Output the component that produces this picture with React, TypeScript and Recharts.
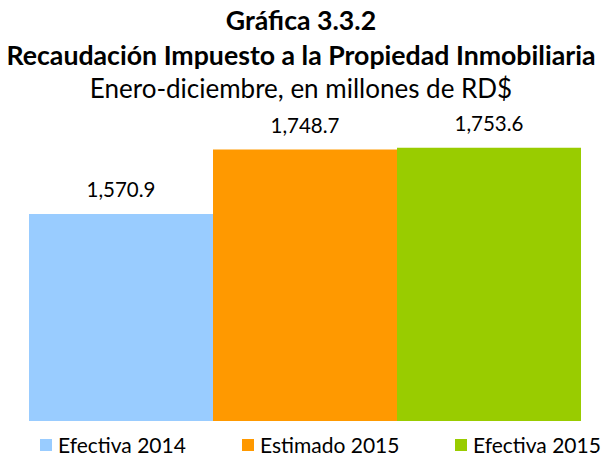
import { BarChart, Bar, XAxis, YAxis, LabelList } from 'recharts';

const seriesNames = ['Efectiva 2014', 'Estimado 2015', 'Efectiva 2015'];
const seriesKeys = ['efectiva2014', 'estimado2015', 'efectiva2015'];
const seriesValues = [1570.9, 1748.7, 1753.6];
const seriesColors = ['#99ccff', '#ff9900', '#99cc00'];

const titleLines = ['Gráfica 3.3.2', 'Recaudación Impuesto a la Propiedad Inmobiliaria'];
const subtitle = 'Enero-diciembre, en millones de RD$';

const row: Record<string, number | string> = { name: 'Recaudación' };
seriesKeys.forEach((k, i) => {
  row[k] = seriesValues[i];
});
const chartData = [row];

const FONT = 'Lato, "Open Sans", sans-serif';

const fmt = (v: any) =>
  typeof v === 'number'
    ? v.toLocaleString('en-US', { minimumFractionDigits: 1, maximumFractionDigits: 1 })
    : v;

function ChartLegend() {
  const lefts = [40, 242, 455];
  return (
    <div style={{ position: 'absolute', left: 0, top: 434, width: 602, height: 22 }}>
      {seriesNames.map((n, i) => (
        <div
          key={n}
          style={{
            position: 'absolute',
            left: lefts[i],
            top: 0,
            display: 'flex',
            alignItems: 'center',
            fontFamily: FONT,
            fontSize: 21,
            lineHeight: '22px',
            color: '#000',
            whiteSpace: 'nowrap',
          }}
        >
          <span style={{ display: 'inline-block', width: 12, height: 12, background: seriesColors[i], marginRight: 6 }} />
          {n}
        </div>
      ))}
    </div>
  );
}

const lineStyle = (top: number, bold: boolean, size: number) => ({
  position: 'absolute' as const,
  left: 0,
  top,
  width: 602,
  textAlign: 'center' as const,
  fontFamily: FONT,
  fontWeight: bold ? 700 : 400,
  fontSize: size,
  lineHeight: '30px',
  color: '#000',
  whiteSpace: 'nowrap' as const,
});

export default function App() {
  return (
    <div style={{ position: 'absolute', left: 0, top: 0, width: 602, height: 457, background: '#fff', overflow: 'hidden' }}>
      <BarChart
        width={602}
        height={457}
        data={chartData}
        margin={{ top: 131, right: 21, bottom: 36, left: 29 }}
        barCategoryGap={0}
        barGap={0}
        style={{ position: 'absolute', left: 0, top: 0 }}
      >
        <XAxis dataKey="name" hide />
        <YAxis hide domain={[1000, 1800]} allowDataOverflow />
        {seriesKeys.map((k, i) => (
          <Bar key={k} dataKey={k} name={seriesNames[i]} fill={seriesColors[i]} isAnimationActive={false}>
            <LabelList
              dataKey={k}
              position="top"
              offset={17}
              formatter={fmt}
              style={{ fontFamily: FONT, fontSize: 20.5, fill: '#000' }}
            />
          </Bar>
        ))}
      </BarChart>
      <div style={lineStyle(5, true, 26.7)}>{titleLines[0]}</div>
      <div style={lineStyle(40, true, 26.7)}>{titleLines[1]}</div>
      <div style={lineStyle(73, false, 26)}>{subtitle}</div>
      <ChartLegend />
    </div>
  );
}
